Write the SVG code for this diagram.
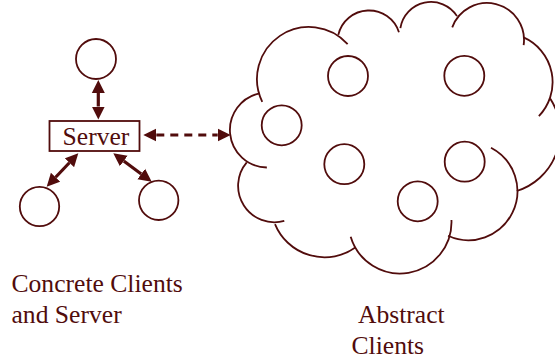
<svg xmlns="http://www.w3.org/2000/svg" width="555" height="364" viewBox="0 0 555 364">
<style>
.ln{fill:none;stroke:#510c0c;stroke-width:1.8}
.nd{fill:#fff;stroke:#510c0c;stroke-width:1.8}
.ar{fill:none;stroke:#510c0c;stroke-width:3.2}
.ds{stroke-dasharray:8 6}
.tx{font-family:"Liberation Serif","Times New Roman",serif;font-size:25.6px;fill:#510c0c}
</style>
<defs>
<marker id="ah" markerUnits="userSpaceOnUse" markerWidth="14" markerHeight="14" refX="0" refY="6.5" orient="auto-start-reverse" viewBox="0 0 14 13">
<path d="M0,0 L13,6.5 L0,13 z" fill="#510c0c"/>
</marker>
</defs>
<rect width="555" height="364" fill="#fff"/>
<g id="cloud">
<path class="ln" d="M266.85,167.49 A37.5,37.5 0 0 1 259.7,93.3"/>
<path class="ln" d="M262.26,101.8 A52,52 0 0 1 347.64,44.2"/>
<path class="ln" d="M338.3,34.9 A31.5,31.5 0 0 1 398.96,32.27"/>
<path class="ln" d="M400.38,28.15 A31,31 0 0 1 457.0,16.12"/>
<path class="ln" d="M452.23,27.35 A37,37 0 0 1 523.64,45.15"/>
<path class="ln" d="M523.59,37.43 A48.9,48.9 0 0 1 538.87,116.07"/>
<path class="ln" d="M550.15,98.5 A61.7,61.7 0 0 1 516.75,191.0"/>
<path class="ln" d="M491.0,147.7 A49,49 0 0 1 448.07,235.76"/>
<path class="ln" d="M451.46,219.93 A51.5,51.5 0 0 1 350.67,236.8"/>
<path class="ln" d="M355.73,247.34 A53.6,53.6 0 0 1 275.0,224.04"/>
<path class="ln" d="M284.29,220.96 A36.4,36.4 0 0 1 246.74,162.36"/>
</g>
<g id="abstract-clients">
<circle id="a1" class="nd" cx="348" cy="76" r="20"/>
<circle id="a2" class="nd" cx="464.3" cy="75.8" r="20"/>
<circle id="a3" class="nd" cx="281.7" cy="125.3" r="20"/>
<circle id="a4" class="nd" cx="344.3" cy="164.2" r="20"/>
<circle id="a5" class="nd" cx="464.7" cy="161.7" r="20"/>
<circle id="a6" class="nd" cx="417.7" cy="201.3" r="20"/>
</g>
<g id="client-top"><circle class="nd" cx="96" cy="59" r="20"/></g>
<g id="client-left"><circle class="nd" cx="39.5" cy="206.5" r="19.7"/></g>
<g id="client-right"><circle class="nd" cx="158.7" cy="200.3" r="19.7"/></g>
<g id="server">
<rect class="nd" x="49.5" y="121" width="90" height="30"/>
<text class="tx" x="96" y="145" text-anchor="middle">Server</text>
</g>
<g id="connectors">
<line class="ar" x1="98.3" y1="93" x2="98.3" y2="106.5" marker-start="url(#ah)" marker-end="url(#ah)"/>
<line class="ar" x1="69.37" y1="162.74" x2="55.63" y2="177.26" marker-start="url(#ah)" marker-end="url(#ah)"/>
<line class="ar" x1="123.75" y1="161.03" x2="141.25" y2="173.97" marker-start="url(#ah)" marker-end="url(#ah)"/>
<line class="ar ds" x1="156.3" y1="135" x2="217.7" y2="135" marker-start="url(#ah)" marker-end="url(#ah)"/>
</g>
<g id="labels">
<text class="tx" x="11.5" y="292.3">Concrete Clients</text>
<text class="tx" x="11.5" y="323.3">and Server</text>
<text class="tx" x="358" y="323.3">Abstract</text>
<text class="tx" x="351.5" y="354.3">Clients</text>
</g>
</svg>
